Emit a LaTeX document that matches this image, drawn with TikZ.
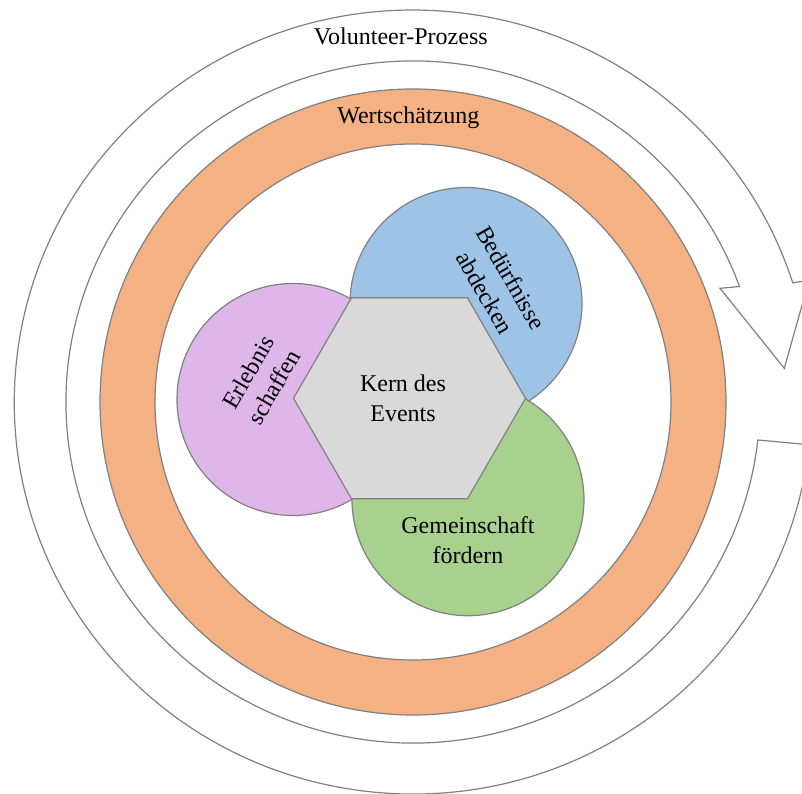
\documentclass[tikz,border=0pt]{standalone}
\usepackage{fontspec}
\setmainfont{Liberation Serif}
\definecolor{lineC}{RGB}{128,128,128}
\definecolor{orangeC}{RGB}{244,177,131}
\definecolor{blueC}{RGB}{157,195,230}
\definecolor{purpleC}{RGB}{222,182,234}
\definecolor{greenC}{RGB}{169,209,142}
\definecolor{hexC}{RGB}{217,217,217}
\begin{document}
\begin{tikzpicture}[x=1pt,y=1pt,line width=1.2pt,
  outl/.style={draw=lineC},
  lbl/.style={font=\fontsize{24}{30}\selectfont, inner sep=0pt, align=center, text=black}]
\useasboundingbox (-413,-391) rectangle (389,402);
\clip (-413,-391) rectangle (389,402);
% circular arrow
\draw[outl, fill=white, line join=miter]
  (396.3,-42.7) arc[start angle=-6.25, end angle=-342.3, x radius=398.7, y radius=392]
  -- (396,121.6) -- (371.3,33.7) -- (307,113.7) -- (326.5,115.5)
  arc[start angle=19.8, end angle=353.6, x radius=347, y radius=341] -- cycle;
% orange ring
\draw[outl, fill=orangeC, even odd rule] (0,0) circle[radius=313] (0,0) circle[radius=258];
% circles
\draw[outl, fill=blueC] (53,98.5) circle[radius=116];
\draw[outl, fill=purpleC] (-120,2.5) circle[radius=116];
\draw[outl, fill=greenC] (55,-97.7) circle[radius=116];
% hexagon
\draw[outl, fill=hexC, line join=miter] ([shift={(0:116)}]-3.5,3.7)
  -- ([shift={(60:116)}]-3.5,3.7) -- ([shift={(120:116)}]-3.5,3.7)
  -- ([shift={(180:116)}]-3.5,3.7) -- ([shift={(240:116)}]-3.5,3.7)
  -- ([shift={(300:116)}]-3.5,3.7) -- cycle;
% labels
\node[lbl, anchor=base] (vp) at (-12.2,357) {Volunteer-Prozess};
\node[lbl, anchor=base] (ws) at (-4.7,278.7) {Wertschätzung};
\node[lbl] (kern) at (-10,3.5) {Kern des\\Events};
\node[lbl] (gem) at (55,-138.1) {Gemeinschaft\\fördern};
\node[lbl, rotate=60] (erl) at (-152,22.5) {Erlebnis\\schaffen};
\node[lbl, rotate=-60] (bed) at (85,117) {Bedürfnisse\\abdecken};
\end{tikzpicture}
\end{document}
